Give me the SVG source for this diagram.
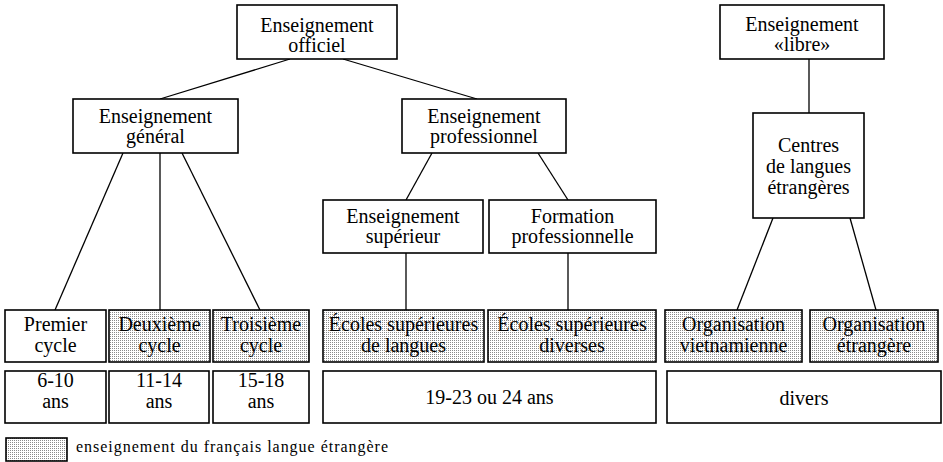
<svg xmlns="http://www.w3.org/2000/svg" width="943" height="462" viewBox="0 0 943 462">
<style>
.box{fill:#fff;stroke:#000;stroke-width:1.6}
.sh{fill:url(#dots);stroke:#000;stroke-width:1.6}
text{font-family:'Liberation Serif','DejaVu Serif',serif;fill:#000}
.t{font-size:20px;text-anchor:middle}
.lg{font-size:16px}
#connectors line{stroke:#000;stroke-width:1.3}
</style>
<defs>
<pattern id="dots" width="2" height="2" patternUnits="userSpaceOnUse">
<rect width="2" height="2" fill="#fff"/>
<rect width="1" height="1" fill="#8a8a8a"/>
</pattern>
</defs>
<rect width="943" height="462" fill="#fff"/>
<g id="connectors">
<line x1="290" y1="59" x2="160" y2="99"/>
<line x1="343" y1="59" x2="477" y2="99"/>
<line x1="123" y1="153" x2="55" y2="310"/>
<line x1="160" y1="153" x2="160" y2="310"/>
<line x1="182" y1="153" x2="260" y2="310"/>
<line x1="432" y1="153" x2="406" y2="200"/>
<line x1="538" y1="153" x2="568" y2="200"/>
<line x1="406" y1="253" x2="406" y2="310"/>
<line x1="568" y1="253" x2="568" y2="310"/>
<line x1="809" y1="59" x2="809" y2="113"/>
<line x1="773" y1="218" x2="737" y2="310"/>
<line x1="850" y1="218" x2="876" y2="310"/>
</g>
<g font-family="Liberation Serif, serif">
<g id="officiel"><rect class="box" x="237" y="5" width="160" height="54"/><text class="t" x="317" y="32">Enseignement</text><text class="t" x="317" y="52">officiel</text></g>
<g id="general"><rect class="box" x="73" y="99" width="165" height="54"/><text class="t" x="155.5" y="123">Enseignement</text><text class="t" x="155.5" y="143">général</text></g>
<g id="professionnel"><rect class="box" x="402" y="99" width="164" height="54"/><text class="t" x="484" y="123">Enseignement</text><text class="t" x="484" y="143">professionnel</text></g>
<g id="superieur"><rect class="box" x="323" y="200" width="160" height="53"/><text class="t" x="403" y="223">Enseignement</text><text class="t" x="403" y="243">supérieur</text></g>
<g id="formation"><rect class="box" x="489" y="200" width="167" height="53"/><text class="t" x="572.5" y="223">Formation</text><text class="t" x="572.5" y="243">professionnelle</text></g>
<g id="libre"><rect class="box" x="720" y="5" width="164" height="54"/><text class="t" x="802" y="31">Enseignement</text><text class="t" x="802" y="51">«libre»</text></g>
<g id="centres"><rect class="box" x="753" y="113" width="111" height="105"/><text class="t" x="808.5" y="152">Centres</text><text class="t" x="808.5" y="173">de langues</text><text class="t" x="808.5" y="194">étrangères</text></g>
<g id="premier"><rect class="box" x="5" y="310" width="101" height="52"/><text class="t" x="55.5" y="331">Premier</text><text class="t" x="55.5" y="352">cycle</text></g>
<g id="deuxieme"><rect class="sh" x="109" y="310" width="101" height="52"/><text class="t" x="159.5" y="331">Deuxième</text><text class="t" x="159.5" y="352">cycle</text></g>
<g id="troisieme"><rect class="sh" x="213" y="310" width="96" height="52"/><text class="t" x="261" y="331">Troisième</text><text class="t" x="261" y="352">cycle</text></g>
<g id="ecoles-langues"><rect class="sh" x="323" y="310" width="161" height="52"/><text class="t" x="403.5" y="331">Écoles supérieures</text><text class="t" x="403.5" y="352">de langues</text></g>
<g id="ecoles-diverses"><rect class="sh" x="488" y="310" width="168" height="52"/><text class="t" x="572" y="331">Écoles supérieures</text><text class="t" x="572" y="352">diverses</text></g>
<g id="org-viet"><rect class="sh" x="665" y="310" width="137" height="52"/><text class="t" x="733.5" y="331">Organisation</text><text class="t" x="733.5" y="352">vietnamienne</text></g>
<g id="org-etr"><rect class="sh" x="810" y="310" width="128" height="52"/><text class="t" x="874" y="331">Organisation</text><text class="t" x="874" y="352">étrangère</text></g>
<g id="age-6-10"><rect class="box" x="5" y="371" width="101" height="52"/><text class="t" x="55.5" y="387">6-10</text><text class="t" x="55.5" y="408">ans</text></g>
<g id="age-11-14"><rect class="box" x="109" y="371" width="100" height="52"/><text class="t" x="159" y="387">11-14</text><text class="t" x="159" y="408">ans</text></g>
<g id="age-15-18"><rect class="box" x="213" y="371" width="96" height="52"/><text class="t" x="261" y="387">15-18</text><text class="t" x="261" y="408">ans</text></g>
<g id="age-19-24"><rect class="box" x="323" y="371" width="333" height="52"/><text class="t" x="489.5" y="404">19-23 ou 24 ans</text></g>
<g id="divers"><rect class="box" x="667" y="371" width="274" height="52"/><text class="t" x="804" y="405">divers</text></g>
<g id="legend"><rect class="sh" x="6" y="438" width="61" height="23"/><text class="lg" x="76" y="452" textLength="312" lengthAdjust="spacing">enseignement du français langue étrangère</text></g>
</g>
</svg>
